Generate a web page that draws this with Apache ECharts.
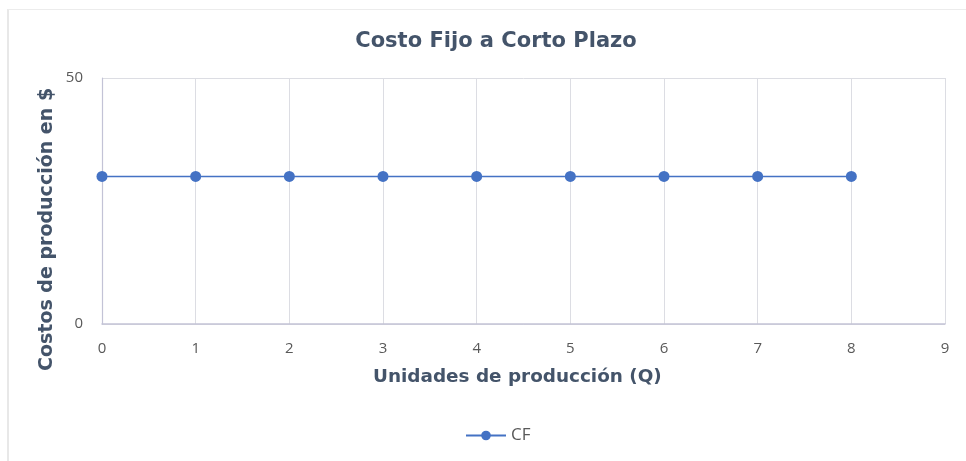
<!DOCTYPE html>
<html>
<head>
  <meta charset="utf-8">
  <script src="https://cdn.jsdelivr.net/npm/echarts@6/dist/echarts.min.js"></script>
  <style>
    body {
      margin: 0;
      padding: 0;
      background-color: white;
    }

    #main {
      position: absolute;
      left: 0;
      top: 0;
      width: 966px;
      height: 461px;
    }

    #frame {
      position: absolute;
      left: 7px;
      top: 9px;
      width: 1000px;
      height: 500px;
      border-left: 2px solid #e8e8e8;
      border-top: 1px solid #ececec;
      pointer-events: none;
    }
  </style>
  <title>Costo Fijo a Corto Plazo</title>
</head>
<body>
<div id="main"></div>
<div id="frame"></div>
<script>
  // datos
  var unidades = [0, 1, 2, 3, 4, 5, 6, 7, 8];
  var costoFijo = [30, 30, 30, 30, 30, 30, 30, 30, 30];
  var serieNombre = 'CF';

  var puntos = unidades.map(function (q, i) {
    return [q, costoFijo[i]];
  });

  var myChart = echarts.init(document.getElementById('main'));

  var textoEje = '#44546a';
  var gris = '#595959';

  myChart.setOption({
    animation: false,
    title: {
      text: 'Costo Fijo a Corto Plazo',
      left: 491,
      textAlign: 'center',
      top: 26,
      textStyle: {
        fontFamily: 'DejaVu Sans',
        fontWeight: 'bold',
        fontSize: 21,
        color: textoEje
      }
    },
    legend: {
      bottom: 12,
      left: 460,
      itemWidth: 40,
      itemHeight: 12,
      itemGap: 6,
      textStyle: {
        color: gris,
        fontSize: 17,
        fontFamily: 'Open Sans'
      },
      data: [serieNombre]
    },
    grid: {
      left: 102,
      right: 21,
      top: 78,
      bottom: 137
    },
    xAxis: {
      type: 'value',
      min: 0,
      max: 9,
      interval: 1,
      axisLine: { show: true, lineStyle: { color: '#c3c3d6', width: 1.5 } },
      axisTick: { show: false },
      axisLabel: {
        color: gris,
        fontSize: 15,
        fontFamily: 'Open Sans',
        margin: 17
      },
      splitLine: { show: true, lineStyle: { color: '#dcdde3' } }
    },
    yAxis: {
      type: 'value',
      min: 0,
      max: 50,
      interval: 50,
      axisLine: { show: true, lineStyle: { color: '#c3c3d6', width: 1.2 } },
      axisTick: { show: false },
      axisLabel: {
        color: gris,
        fontSize: 15,
        fontFamily: 'Open Sans',
        margin: 19
      },
      splitLine: { show: true, lineStyle: { color: '#dcdde3' } }
    },
    graphic: [
      {
        type: 'text',
        left: 373,
        top: 368,
        style: {
          text: 'Unidades de producción (Q)',
          font: 'bold 18.4px "DejaVu Sans"',
          fill: textoEje
        }
      },
      {
        type: 'text',
        x: 38,
        y: 371,
        rotation: Math.PI / 2,
        style: {
          text: 'Costos de producción en $',
          font: 'bold 19px "DejaVu Sans"',
          fill: textoEje
        }
      }
    ],
    series: [
      {
        name: serieNombre,
        type: 'line',
        data: puntos,
        symbol: 'circle',
        symbolSize: 11,
        lineStyle: { color: '#4472c4', width: 1.5 },
        itemStyle: { color: '#4472c4' }
      }
    ]
  });
</script>
</body>
</html>
